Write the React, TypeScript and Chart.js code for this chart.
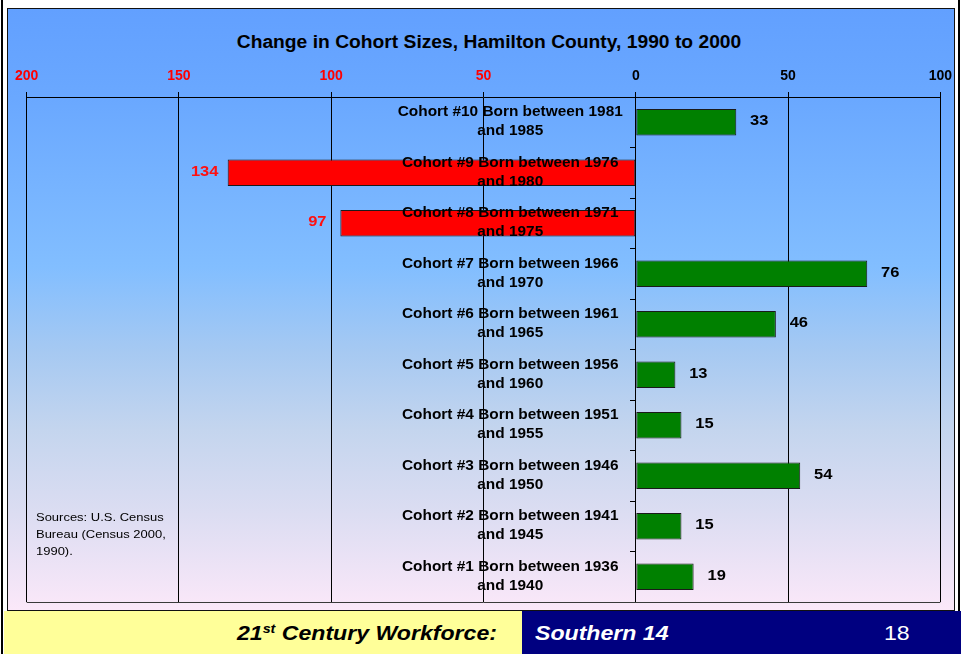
import React, { useEffect, useRef } from "react";
import { Chart, registerables } from "chart.js";

Chart.register(...registerables);

// ---- data ----
const cohortNames = [
  "Cohort #10",
  "Cohort #9",
  "Cohort #8",
  "Cohort #7",
  "Cohort #6",
  "Cohort #5",
  "Cohort #4",
  "Cohort #3",
  "Cohort #2",
  "Cohort #1",
];
const bornFrom = [1981, 1976, 1971, 1966, 1961, 1956, 1951, 1946, 1941, 1936];
const bornTo = [1985, 1980, 1975, 1970, 1965, 1960, 1955, 1950, 1945, 1940];
const sizeChange = [33, -134, -97, 76, 46, 13, 15, 54, 15, 19];
const axisMin = -200;
const axisMax = 100;
const axisStep = 50;
const chartTitle = "Change in Cohort Sizes, Hamilton County, 1990 to 2000";
const sourceLines = ["Sources: U.S. Census", "Bureau (Census 2000,", "1990)."];

const categoryLabels = cohortNames.map((n, i) => [
  `${n} Born between ${bornFrom[i]}`,
  `and ${bornTo[i]}`,
]);

const FONT = '"Liberation Sans", Arial, Helvetica, sans-serif';
const STRETCH = 1.1;

function stretchedText(ctx: CanvasRenderingContext2D, text: string, x: number, y: number, align: CanvasTextAlign) {
  ctx.save();
  ctx.translate(x, y);
  ctx.scale(STRETCH, 1);
  ctx.textAlign = align;
  ctx.fillText(text, 0, 0);
  ctx.restore();
}

const labelPlugin = {
  id: "cohortLabels",
  beforeDatasetsDraw(chart: any) {
    const { ctx, chartArea } = chart;
    ctx.save();
    ctx.strokeStyle = "#3a3a3a";
    ctx.lineWidth = 1;
    const yb = Math.round(chartArea.bottom) + 0.5;
    ctx.beginPath();
    ctx.moveTo(chartArea.left, yb);
    ctx.lineTo(chartArea.right, yb);
    ctx.stroke();
    ctx.restore();
  },
  afterDatasetsDraw(chart: any) {
    const ctx: CanvasRenderingContext2D = chart.ctx;
    const xs = chart.scales.x;
    const ys = chart.scales.y;
    const zero = xs.getPixelForValue(0);
    ctx.save();
    ctx.font = `bold 14px ${FONT}`;
    ctx.fillStyle = "#000";
    ctx.textBaseline = "middle";
    const labels = chart.data.labels as string[][];
    let widest = 0;
    labels.forEach((l) =>
      l.forEach((s) => {
        widest = Math.max(widest, ctx.measureText(s).width * STRETCH);
      })
    );
    const cx = zero - 13 - widest / 2;
    labels.forEach((l, i) => {
      const yc = ys.getPixelForValue(i);
      stretchedText(ctx, l[0], cx, yc - 10, "center");
      stretchedText(ctx, l[1], cx, yc + 9, "center");
    });
    const meta = chart.getDatasetMeta(0);
    ctx.font = `bold 15px ${FONT}`;
    meta.data.forEach((el: any, i: number) => {
      const v = sizeChange[i];
      const dir = v < 0 ? -1 : 1;
      ctx.fillStyle = v < 0 ? "#FF1010" : "#000";
      stretchedText(ctx, String(Math.abs(v)), el.x + dir * 23, el.y - 1, "center");
    });
    ctx.restore();
  },
};

export default function App() {
  const canvasRef = useRef<HTMLCanvasElement | null>(null);

  useEffect(() => {
    if (!canvasRef.current) return;
    const chart = new Chart(canvasRef.current, {
      type: "bar",
      data: {
        labels: categoryLabels,
        datasets: [
          {
            data: sizeChange,
            backgroundColor: sizeChange.map((v) => (v < 0 ? "#FF0000" : "#008000")),
            borderColor: "#1a1a1a",
            borderWidth: 1,
            borderSkipped: false,
            barPercentage: 0.52,
            categoryPercentage: 1,
          },
        ],
      },
      options: {
        indexAxis: "y",
        animation: false,
        responsive: false,
        maintainAspectRatio: false,
        layout: { padding: { left: 16, right: 6, top: 48, bottom: 8 } },
        plugins: {
          legend: { display: false },
          title: { display: false },
          tooltip: { enabled: false },
        },
        scales: {
          x: {
            type: "linear",
            position: "top",
            min: axisMin,
            max: axisMax,
            ticks: {
              stepSize: axisStep,
              autoSkip: false,
              maxRotation: 0,
              padding: 7,
              callback: (v: any) => String(Math.abs(Number(v))),
              color: (c: any) => (c.tick && c.tick.value < 0 ? "#FF0000" : "#000000"),
              font: { family: FONT, size: 14, weight: "bold" },
            },
            grid: { color: "#000", lineWidth: 1, tickLength: 5 },
            border: { color: "#000", width: 1 },
            afterFit: (s: any) => {
              s.height = 40;
            },
          },
          y: {
            type: "category",
            position: { x: 0 },
            ticks: { display: false },
            grid: { drawOnChartArea: false, color: "#000", tickLength: 5, offset: true },
            border: { color: "#000", width: 1 },
            afterFit: (s: any) => {
              s.width = 0;
            },
          },
        },
      } as any,
      plugins: [labelPlugin],
    });
    return () => chart.destroy();
  }, []);

  return (
    <div
      style={{
        position: "fixed",
        left: 0,
        top: 0,
        width: 961,
        height: 654,
        background: "#fff",
        overflow: "hidden",
        fontFamily: FONT,
      }}
    >
      <div style={{ position: "absolute", left: 1, top: 0, width: 2, height: 654, background: "#000" }} />
      <div style={{ position: "absolute", left: 958, top: 0, width: 2, height: 654, background: "#000" }} />
      <div
        style={{
          position: "absolute",
          left: 7,
          top: 8,
          width: 948,
          height: 603,
          boxSizing: "border-box",
          border: "1px solid #111",
          background:
            "linear-gradient(to bottom, #62A0FF 0%, #6AA8FF 15%, #82BEFF 43%, #A6C9F2 57%, #C4D5EE 70%, #DCDDF2 84%, #FBE8F9 100%)",
        }}
      />
      <div
        style={{
          position: "absolute",
          left: 0,
          top: 31,
          width: 978,
          lineHeight: "22px",
          textAlign: "center",
          fontSize: 17.5,
          fontWeight: "bold",
          color: "#000",
          transform: `scaleX(${STRETCH})`,
          transformOrigin: "center",
          whiteSpace: "nowrap",
        }}
      >
        {chartTitle}
      </div>
      <canvas
        ref={canvasRef}
        width={951}
        height={601}
        style={{ position: "absolute", left: 8, top: 9, width: 951, height: 601, display: "block" }}
      />
      <div
        style={{
          position: "absolute",
          left: 36,
          top: 509,
          fontSize: 11.8,
          lineHeight: "17px",
          color: "#000",
          transform: `scaleX(${STRETCH})`,
          transformOrigin: "left",
          whiteSpace: "nowrap",
        }}
      >
        {sourceLines.map((l, i) => (
          <div key={i}>{l}</div>
        ))}
      </div>
      <div style={{ position: "absolute", left: 4, top: 611, width: 518, height: 43, background: "#FFFF99" }} />
      <div style={{ position: "absolute", left: 522, top: 611, width: 439, height: 43, background: "#000080" }} />
      <div
        style={{
          position: "absolute",
          left: 0,
          width: 497,
          top: 611,
          height: 43,
          lineHeight: "43px",
          textAlign: "right",
          fontSize: 21,
          fontWeight: "bold",
          fontStyle: "italic",
          color: "#000",
          transform: `scaleX(${STRETCH})`,
          transformOrigin: "right",
          whiteSpace: "nowrap",
        }}
      >
        21<span style={{ fontSize: 13, verticalAlign: "7px", lineHeight: 0 }}>st</span> Century Workforce:
      </div>
      <div
        style={{
          position: "absolute",
          left: 535,
          top: 611,
          height: 43,
          lineHeight: "43px",
          fontSize: 21,
          fontWeight: "bold",
          fontStyle: "italic",
          color: "#fff",
          transform: `scaleX(${STRETCH})`,
          transformOrigin: "left",
          whiteSpace: "nowrap",
        }}
      >
        Southern 14
      </div>
      <div
        style={{
          position: "absolute",
          left: 884,
          top: 611,
          height: 43,
          lineHeight: "43px",
          fontSize: 21,
          color: "#fff",
          transform: `scaleX(${STRETCH})`,
          transformOrigin: "left",
          whiteSpace: "nowrap",
        }}
      >
        18
      </div>
    </div>
  );
}
